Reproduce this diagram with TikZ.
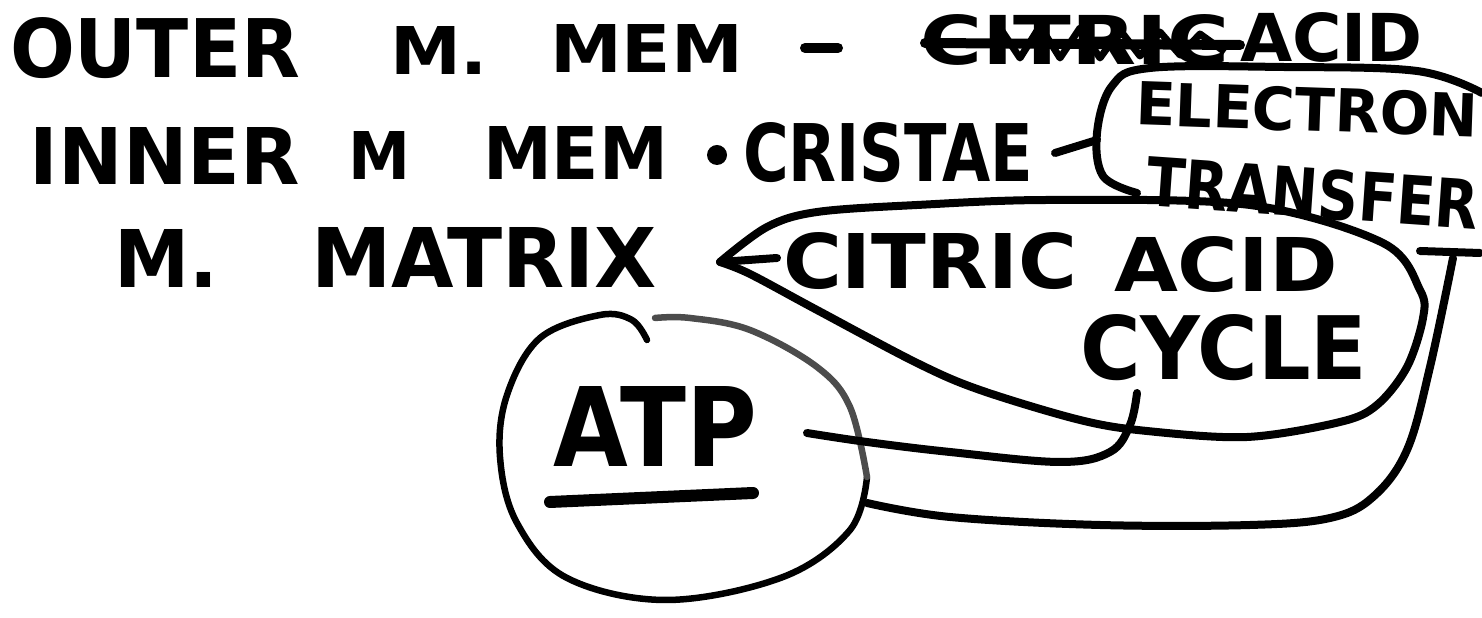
\documentclass[tikz,border=0pt]{standalone}
\usepackage{fontspec}
\usepackage{graphicx}
\setmainfont{DejaVu Sans}
\newcommand\hw[3]{\resizebox{#1mm}{#2mm}{\textbf{#3}}}
\tikzset{
  ink/.style={line width=0.8mm, line cap=round, line join=round},
  thinink/.style={line width=0.65mm, line cap=round, line join=round},
  txt/.style={anchor=base west, inner sep=0pt, outer sep=0pt}
}
\begin{document}
\begin{tikzpicture}[x=0.1mm,y=-0.1mm]
\useasboundingbox (0,0) rectangle (1482,618);
% line 1
\node[txt] (outer) at (10,78) {\hw{29}{6.0}{OUTER}};
\node[txt] (outerM) at (390,75) {\hw{9.8}{4.8}{M.}};
\node[txt] (outerMem) at (550,73) {\hw{19.3}{4.8}{MEM}};
\coordinate (d1a) at (805,48); \coordinate (d1b) at (838,48);
\draw[ink, line width=1mm] (d1a) -- (d1b);
\node[txt] (crossed) at (920,65) {\hw{31}{5.0}{CITRIC}};
\node[txt] (acidA) at (1240,62) {\hw{18.3}{4.9}{ACID}};
\coordinate (s1) at (925,43); \coordinate (s2) at (1240,45);
\draw[ink, line width=1mm] (s1) -- (s2);
\draw[line width=0.7mm, line join=round] (1000,28) -- (1020,58) -- (1040,26) -- (1060,58) -- (1080,28) -- (1100,58) -- (1120,30) -- (1140,56) -- (1160,32) -- (1180,55) -- (1200,34) -- (1225,52);
% line 2
\node[txt] (inner) at (30,185) {\hw{27}{5.7}{INNER}};
\node[txt] (innerM) at (348,180) {\hw{6.2}{4.8}{M}};
\node[txt] (innerMem) at (483,180) {\hw{18.5}{5.3}{MEM}};
\fill (717,155) circle (1mm);
\node[txt] (cristae) at (743,182) {\hw{29}{5.9}{CRISTAE}};
\node[txt, rotate=-2] (electron) at (1135,125) {\hw{34.3}{4.4}{ELECTRON}};
\node[txt, rotate=-4] (transfer) at (1145,206) {\hw{33.3}{5.0}{TRANSFER}};
\coordinate (d2a) at (1055,153); \coordinate (d2b) at (1097,140);
\draw[ink] (d2a) -- (d2b);
\coordinate (brR) at (1482,93);
\draw[ink] plot[smooth, tension=0.6] coordinates {(brR) (1417,71) (1283,67) (1150,68) (1112,86) (1097,133) (1103,176) (1137,193)};
% line 3
\node[txt] (mM) at (114,288) {\hw{10.4}{5.8}{M.}};
\node[txt] (matrix) at (311,288) {\hw{34.6}{6.0}{MATRIX}};
\node[txt] (citric) at (783,289) {\hw{29.4}{5.6}{CITRIC}};
\node[txt] (acid) at (1114,292) {\hw{22.4}{5.5}{ACID}};
\node[txt] (cycle) at (1080,380) {\hw{28.7}{6.5}{CYCLE}};
% citric acid loop with arrow tip
\coordinate (tip) at (720,262);
\coordinate (bar) at (777,258);
\draw[ink] plot[smooth, tension=0.55] coordinates {(tip) (767,227) (817,212) (917,205) (1050,200) (1250,205) (1383,243) (1420,290) (1423,318) (1407,367) (1377,405) (1340,422) (1247,437) (1147,431) (1080,420) (980,390) (917,363) (817,310) (750,274) (tip)};
\draw[ink] (tip) -- (bar);
% ATP
\node[txt] (atp) at (553,467) {\hw{20.4}{8.0}{ATP}};
\coordinate (ul1) at (550,502); \coordinate (ul2) at (753,493);
\draw[ink, line width=1.2mm] (ul1) -- (ul2);
\draw[thinink] plot[smooth, tension=0.6] coordinates {(647,340) (632,320) (600,315) (540,338) (507,395) (500,457) (517,523) (567,578) (667,600) (783,577) (850,530) (867,477)};
\draw[thinink, black!70] plot[smooth, tension=0.6] coordinates {(867,477) (850,407) (817,367) (750,330) (690,318) (655,318)};
% connectors
\coordinate (c1s) at (807,433);
\coordinate (c1e) at (1137,393);
\draw[ink] plot[smooth, tension=0.6] coordinates {(c1s) (867,442) (950,452) (1060,462) (1110,452) (1130,425) (c1e)};
\coordinate (c2s) at (867,503);
\coordinate (c2e) at (1453,258);
\draw[ink] plot[smooth, tension=0.6] coordinates {(c2s) (950,517) (1100,525) (1250,525) (1330,518) (1373,497) (1407,450) (1430,367) (c2e)};
\coordinate (tb1) at (1420,251); \coordinate (tb2) at (1480,253);
\draw[ink] (tb1) -- (tb2);
\end{tikzpicture}
\end{document}
